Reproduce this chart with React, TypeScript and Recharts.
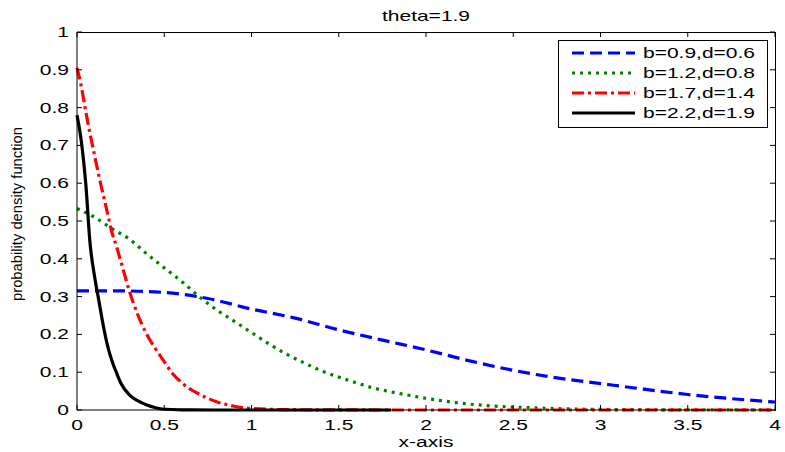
import React from 'react';
import { LineChart, Line, XAxis, YAxis, Legend, ReferenceLine } from 'recharts';

const chartTitle = 'theta=1.9';
const xLabel = 'x-axis';
const yLabel = 'probability density function';

const xTicks = [0, 0.5, 1, 1.5, 2, 2.5, 3, 3.5, 4];
const yTicks = [0, 0.1, 0.2, 0.3, 0.4, 0.5, 0.6, 0.7, 0.8, 0.9, 1];

const seriesNames = ['b=0.9,d=0.6', 'b=1.2,d=0.8', 'b=1.7,d=1.4', 'b=2.2,d=1.9'];

const blueX = [0, 0.25, 0.5, 0.75, 1, 1.25, 1.5, 1.75, 2, 2.25, 2.5, 2.75, 3, 3.25, 3.5, 3.75, 4];
const blueY = [0.315, 0.315, 0.311, 0.295, 0.267, 0.243, 0.212, 0.185, 0.159, 0.13, 0.105, 0.085, 0.07, 0.055, 0.041, 0.03, 0.021];

const greenX = [0, 0.1, 0.2, 0.3, 0.4, 0.5, 0.6, 0.7, 0.8, 0.9, 1, 1.1, 1.2, 1.3, 1.4, 1.5, 1.6, 1.7, 1.8, 1.9, 2, 2.2, 2.4, 2.6, 2.8, 3, 3.5, 4];
const greenY = [0.533, 0.51, 0.48, 0.452, 0.413, 0.376, 0.34, 0.3, 0.265, 0.235, 0.205, 0.175, 0.148, 0.125, 0.104, 0.087, 0.072, 0.058, 0.048, 0.039, 0.031, 0.018, 0.01, 0.006, 0.003, 0.0015, 0.0004, 0.0001];

const redX = [0, 0.025, 0.05, 0.075, 0.1, 0.125, 0.15, 0.175, 0.2, 0.225, 0.25, 0.3, 0.35, 0.4, 0.45, 0.5, 0.55, 0.6, 0.7, 0.8, 0.9, 1, 1.2, 1.5, 2, 4];
const redY = [0.905, 0.855, 0.79, 0.73, 0.675, 0.62, 0.57, 0.52, 0.47, 0.435, 0.395, 0.315, 0.25, 0.2, 0.162, 0.128, 0.095, 0.072, 0.042, 0.022, 0.01, 0.004, 0.001, 0.0002, 0, 0];

const blackX = [0, 0.025, 0.05, 0.075, 0.1, 0.125, 0.15, 0.175, 0.2, 0.225, 0.25, 0.3, 0.35, 0.4, 0.45, 0.5, 0.6, 0.8, 1, 1.8];
const blackY = [0.78, 0.71, 0.6, 0.44, 0.355, 0.29, 0.225, 0.17, 0.13, 0.1, 0.072, 0.04, 0.024, 0.013, 0.006, 0.002, 0.0005, 0, 0, 0];

const toPoints = (xs: number[], ys: number[]) => xs.map((x, i) => ({ x, y: ys[i] }));

const series = [
  { name: seriesNames[0], data: toPoints(blueX, blueY), color: '#0000ff', dash: '12 6' },
  { name: seriesNames[1], data: toPoints(greenX, greenY), color: '#008000', dash: '3 5' },
  { name: seriesNames[2], data: toPoints(redX, redY), color: '#ff0000', dash: '12 4 3 4' },
  { name: seriesNames[3], data: toPoints(blackX, blackY), color: '#000000', dash: undefined },
];

const X_MIN = 0;
const X_MAX = 4;
const Y_MIN = 0;
const Y_MAX = 1;
const TICK_DX = (5 / 698) * (X_MAX - X_MIN);
const TICK_DY = (5 / 378) * (Y_MAX - Y_MIN);

const FONT = "'Liberation Sans', Arial, Helvetica, sans-serif";
const SX = 1.5;

function WideText(props: { x: number; y: number; anchor?: string; size?: number; children: any }) {
  const { x, y, anchor = 'middle', size = 14, children } = props;
  return (
    <text
      transform={`translate(${x},${y}) scale(${SX},1)`}
      textAnchor={anchor as any}
      fontSize={size}
      fontFamily={FONT}
      fill="#000"
    >
      {children}
    </text>
  );
}

const XTick = (p: any) => <WideText x={p.x} y={p.y}>{String(p.payload.value)}</WideText>;
const YTick = (p: any) => <WideText x={p.x} y={p.y + 5} anchor="end">{String(p.payload.value)}</WideText>;

const LegendBox = () => (
  <div style={{ width: 210, height: 88, border: '1px solid #000', background: '#fff', boxSizing: 'border-box' }}>
    <svg width={208} height={86} style={{ display: 'block' }}>
      {series.map((s, i) => (
        <g key={s.name}>
          <line
            x1={13}
            x2={76}
            y1={12 + 20 * i}
            y2={12 + 20 * i}
            stroke={s.color}
            strokeWidth={3}
            strokeDasharray={s.dash}
          />
          <WideText x={84} y={17 + 20 * i} anchor="start">{s.name}</WideText>
        </g>
      ))}
    </svg>
  </div>
);

export default function App() {
  return (
    <div style={{ position: 'absolute', left: 0, top: 0, width: 785, height: 452, background: '#fff' }}>
      <LineChart width={785} height={452} margin={{ top: 32, right: 10, bottom: 0, left: 0 }}>
        <XAxis
          type="number"
          dataKey="x"
          domain={[X_MIN, X_MAX]}
          ticks={xTicks}
          interval={0}
          height={42}
          orientation="bottom"
          stroke="#000"
          tickSize={-5}
          tickMargin={25}
          tick={XTick}
          allowDuplicatedCategory={false}
          label={{ content: () => <WideText x={426} y={447}>{xLabel}</WideText> }}
        />
        <YAxis
          type="number"
          domain={[Y_MIN, Y_MAX]}
          ticks={yTicks}
          interval={0}
          width={77}
          orientation="left"
          stroke="#000"
          tickSize={-5}
          tickMargin={13}
          tick={YTick}
          label={{
            content: () => (
              <g>
                <text
                  transform="translate(22,214) rotate(-90)"
                  textAnchor="middle"
                  fontSize={14}
                  fontFamily={FONT}
                  textLength={174}
                  lengthAdjust="spacingAndGlyphs"
                  fill="#000"
                >
                  {yLabel}
                </text>
                <WideText x={426} y={21}>{chartTitle}</WideText>
              </g>
            ),
          }}
        />
        {xTicks.map((t) => (
          <ReferenceLine
            key={'tt' + t}
            segment={[{ x: t, y: Y_MAX - TICK_DY * 0.01 }, { x: t, y: Y_MAX - TICK_DY }]}
            stroke="#000"
            strokeWidth={1}
            ifOverflow="visible"
          />
        ))}
        {yTicks.map((t) => (
          <ReferenceLine
            key={'rt' + t}
            segment={[{ x: X_MAX, y: t }, { x: X_MAX - TICK_DX, y: t }]}
            stroke="#000"
            strokeWidth={1}
            ifOverflow="visible"
          />
        ))}
        <Legend
          layout="vertical"
          align="center"
          verticalAlign="middle"
          content={LegendBox}
          wrapperStyle={{ position: 'absolute', left: 558, top: 40, width: 210, height: 88 }}
        />
        {series.map((s) => (
          <Line
            key={s.name}
            data={s.data}
            dataKey="y"
            name={s.name}
            type="monotone"
            stroke={s.color}
            strokeWidth={3.2}
            strokeDasharray={s.dash}
            dot={false}
            activeDot={false}
            isAnimationActive={false}
          />
        ))}
      </LineChart>
      <div
        style={{
          position: 'absolute',
          left: 77,
          top: 32,
          width: 699,
          height: 379,
          boxSizing: 'border-box',
          borderTop: '1px solid #000',
          borderRight: '1px solid #000',
          pointerEvents: 'none',
        }}
      />
    </div>
  );
}
